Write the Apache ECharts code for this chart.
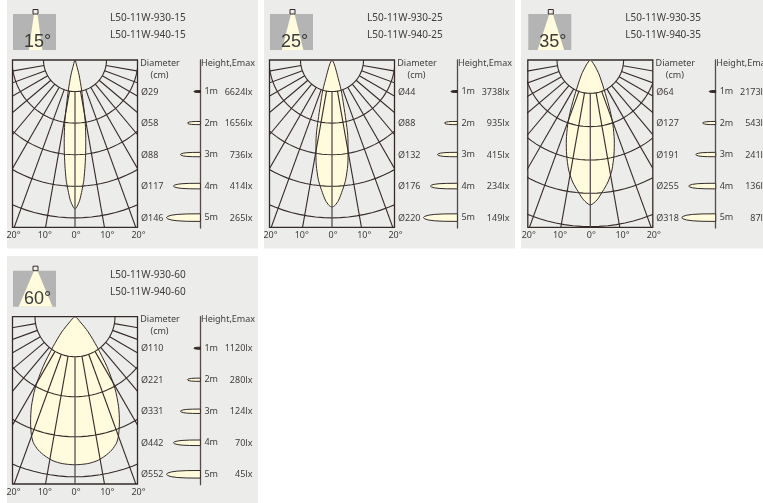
<!DOCTYPE html>
<html>
<head>
<meta charset="utf-8">
<style>html,body{margin:0;padding:0;background:#fff}#c{width:763px;height:503px}</style>
<script src="https://cdn.jsdelivr.net/npm/echarts@6/dist/echarts.min.js"></script>
</head>
<body>
<div id="c"></div>
<script>
// ---- data ----
var beamAngles = [15, 25, 35, 60];
var productCodes = [
  ['L50-11W-930-15', 'L50-11W-940-15'],
  ['L50-11W-930-25', 'L50-11W-940-25'],
  ['L50-11W-930-35', 'L50-11W-940-35'],
  ['L50-11W-930-60', 'L50-11W-940-60']
];
var heights = [1, 2, 3, 4, 5];
var diameters15 = [29, 58, 88, 117, 146];
var diameters25 = [44, 88, 132, 176, 220];
var diameters35 = [64, 127, 191, 255, 318];
var diameters60 = [110, 221, 331, 442, 552];
var emax15 = [6624, 1656, 736, 414, 265];
var emax25 = [3738, 935, 415, 234, 149];
var emax35 = [2173, 543, 241, 136, 87];
var emax60 = [1120, 280, 124, 70, 45];
var radialAngles = [0, 10, 20, 30, 40, 50, 60, 70, 80];
// beam outline: depth below the lamp (m), half width (m)
var beamDepth15 = [0, .16, .48, .95, 1.43, 1.9, 2.38, 2.86, 3.33, 3.81, 4.13, 4.44, 4.63, 4.72];
var beamHalf15  = [0, .05, .13, .21, .27, .32, .34, .34, .32, .28, .22, .15, .07, 0];
var beamDepth25 = [0, .16, .48, .95, 1.43, 1.9, 2.38, 2.86, 3.33, 3.81, 4.13, 4.44, 4.6, 4.66];
var beamHalf25  = [0, .08, .17, .29, .37, .44, .5, .51, .5, .43, .33, .21, .1, 0];
var beamDepth35 = [0, .15, .45, 1, 1.5, 1.95, 2.4, 2.85, 3.3, 3.66, 3.96, 4.2, 4.35];
var beamHalf35  = [0, .12, .27, .45, .59, .68, .72, .71, .65, .53, .36, .2, 0];
var beamDepth60 = [0, .13, .38, .75, 1.25, 1.8, 2.25, 2.63, 2.95, 3.15, 3.33, 3.48, 3.6, 3.67, 3.7];
var beamHalf60  = [0, .13, .33, .55, .8, 1, 1.09, 1.11, 1.09, 1.04, .92, .75, .55, .32, 0];
// little side lobes at each height
var lobeLength = [6.5, 13, 20, 27, 34];
var lobeThickness = [1, 1.6, 2.2, 2.8, 3.8];
var lobeAlong = [0, .04, .14, .32, .6, 1];
var lobeAcross = [0, .32, .62, .84, .97, 1];
// arcs per panel and metres covered by the plot
var arcCounts = [5, 5, 5, 4];
var depthRange = [5.3, 5.3, 5.02, 4.18];
var halfRange = [1.984, 1.984, 1.877, 1.5625];
var iconConeHalf = [6.8, 10.8, 13.3, 17];

var diameters = [diameters15, diameters25, diameters35, diameters60];
var emax = [emax15, emax25, emax35, emax60];
var beamDepths = [beamDepth15, beamDepth25, beamDepth35, beamDepth60];
var beamHalves = [beamHalf15, beamHalf25, beamHalf35, beamHalf60];

// ---- layout and style ----
var offX = [0, 257, 515.3, 0], offY = [0, 0, 0, 256.7];
var panelBg = [[7, 0, 251, 248.5], [264, 0, 251, 248.5], [521, 0, 242, 248.5], [7, 256, 251, 247]];
var INK = '#352a28', TXT = '#403c3c', CREAM = '#fffbdc', FONT = '"Noto Sans", "Open Sans", sans-serif';
var grids = [], xAxes = [], yAxes = [], series = [], graphics = [];

panelBg.forEach(function (r) {
  graphics.push({type: 'rect', silent: true, z: -10, shape: {x: r[0], y: r[1], width: r[2], height: r[3]}, style: {fill: '#ececeb'}});
});

function addPanel(p) {
  var ox = offX[p], oy = offY[p];
  var base = grids.length;
  grids.push({left: 12.5 + ox, top: 60 + oy, width: 125, height: 167.3, show: true, borderColor: INK, borderWidth: 1.3, backgroundColor: 'transparent'});
  grids.push({left: 141 + ox, top: 60 + oy, width: 59.4, height: 168, show: false});
  var axBase = xAxes.length, yBase = yAxes.length;
  xAxes.push({gridIndex: base, type: 'value', min: -20, max: 20, interval: 10, position: 'bottom',
    axisLine: {show: false}, axisTick: {show: false}, splitLine: {show: false},
    axisLabel: {show: true, showMinLabel: true, showMaxLabel: true, margin: 4, padding: [0, 0, 0, 2], fontFamily: FONT, fontSize: 9, color: TXT,
      formatter: function (v) { return Math.abs(v) + '°'; }}});
  xAxes.push({gridIndex: base, type: 'value', show: false, min: -halfRange[p], max: halfRange[p]});
  xAxes.push({gridIndex: base + 1, type: 'value', show: false, min: -59.4, max: 0});
  yAxes.push({gridIndex: base, type: 'value', show: false, inverse: true, min: 0, max: depthRange[p]});
  yAxes.push({gridIndex: base + 1, type: 'value', inverse: true, min: 0, max: 5.33, interval: 1, position: 'right',
    axisLine: {show: true, lineStyle: {color: '#554b49', width: 1.3}}, axisTick: {show: false}, splitLine: {show: false},
    axisLabel: {margin: 4, fontFamily: FONT, fontSize: 9, color: TXT, showMaxLabel: false,
      formatter: function (v) { return v >= 1 && v <= 5 ? v + 'm' : ''; }}});

  series.push({type: 'custom', xAxisIndex: axBase + 1, yAxisIndex: yBase, clip: true, z: 2, silent: true,
    data: beamDepths[p].map(function (d, i) { return [beamHalves[p][i], d]; }),
    renderItem: function (params, api) {
      if (params.dataIndex !== 0) return null;
      var depth = beamDepths[p], half = beamHalves[p], pts = [], i;
      for (i = 0; i < depth.length; i++) pts.push(api.coord([half[i], depth[i]]));
      for (i = depth.length - 2; i > 0; i--) pts.push(api.coord([-half[i], depth[i]]));
      return {type: 'polygon', shape: {points: pts, smooth: 0.25}, style: {fill: CREAM, stroke: INK, lineWidth: 1}};
    }});
  var arcData = [];
  for (var k = 1; k <= arcCounts[p]; k++) arcData.push([0, k]);
  series.push({type: 'custom', xAxisIndex: axBase + 1, yAxisIndex: yBase, clip: true, z: 3, silent: true, data: arcData,
    renderItem: function (params, api) {
      var r = api.value(1), pts = [];
      for (var a = -90; a <= 90; a += 3) {
        var t = a * Math.PI / 180;
        pts.push(api.coord([r * Math.sin(t), r * Math.cos(t)]));
      }
      return {type: 'polyline', shape: {points: pts}, style: {fill: 'none', stroke: INK, lineWidth: 1.1}};
    }});
  var spokes = [];
  radialAngles.forEach(function (a) { spokes.push([a, 1]); if (a) spokes.push([-a, 1]); });
  series.push({type: 'custom', xAxisIndex: axBase + 1, yAxisIndex: yBase, clip: true, z: 3, silent: true, data: spokes,
    renderItem: function (params, api) {
      var t = api.value(0) * Math.PI / 180, r0 = 1, r1 = 8;
      var a = api.coord([r0 * Math.sin(t), r0 * Math.cos(t)]), b = api.coord([r1 * Math.sin(t), r1 * Math.cos(t)]);
      return {type: 'line', shape: {x1: a[0], y1: a[1], x2: b[0], y2: b[1]},
        style: {stroke: api.value(0) === 0 ? '#575050' : INK, lineWidth: api.value(0) === 0 ? 1.3 : 1.1}};
    }});
  series.push({type: 'custom', xAxisIndex: axBase + 2, yAxisIndex: yBase + 1, z: 2, silent: true,
    data: heights.map(function (h, i) { return [-lobeLength[i], h, lobeThickness[i]]; }),
    renderItem: function (params, api) {
      var len = -api.value(0), h = api.value(1), th = api.value(2), pts = [], i;
      var c = api.coord([0, h]);
      for (i = 0; i < lobeAlong.length; i++) pts.push([c[0] - len + len * lobeAlong[i], c[1] - th * lobeAcross[i]]);
      pts.push([c[0], c[1] + th]);
      for (i = lobeAlong.length - 2; i > 0; i--) pts.push([c[0] - len + len * lobeAlong[i], c[1] + th * lobeAcross[i]]);
      return {type: 'polygon', shape: {points: pts}, style: {fill: len < 8 ? INK : CREAM, stroke: INK, lineWidth: 1}};
    }});
  series.push({type: 'custom', xAxisIndex: axBase + 2, yAxisIndex: yBase + 1, z: 4, silent: true,
    data: heights.map(function (h, i) { return [-59.4, h, diameters[p][i], emax[p][i]]; }),
    renderItem: function (params, api) {
      var c = api.coord([0, api.value(1)]);
      return {type: 'group', children: [
        {type: 'text', x: c[0] - 59.4, y: c[1] + 0.5, style: {text: 'Ø' + api.value(2), font: '9px ' + FONT, fill: TXT, textAlign: 'left', textVerticalAlign: 'middle'}},
        {type: 'text', x: c[0] + 52, y: c[1] + 0.5, style: {text: api.value(3) + 'lx', font: '9px ' + FONT, fill: TXT, textAlign: 'right', textVerticalAlign: 'middle'}}
      ]};
    }});

  function txt(s, x, y, size, align) {
    graphics.push({type: 'text', silent: true, z: 5, x: x + ox, y: y + oy,
      style: {text: s, font: size + 'px ' + FONT, fill: TXT, textAlign: align || 'left', textVerticalAlign: 'middle'}});
  }
  txt(productCodes[p][0], 110, 18.5, 10);
  txt(productCodes[p][1], 110, 35, 10);
  txt('Diameter', 160, 63, 9, 'center');
  txt('(cm)', 159.5, 75, 9, 'center');
  txt('Height,Emax', 201, 63, 9);

  graphics.push({type: 'rect', silent: true, z: 1, shape: {x: 13 + ox, y: 14 + oy, width: 43, height: 36}, style: {fill: '#b4b4b4'}});
  graphics.push({type: 'polygon', silent: true, z: 2, shape: {points: [[34 + ox, 14 + oy], [37.5 + ox, 14 + oy], [35.6 + ox + iconConeHalf[p], 50 + oy], [35.6 + ox - iconConeHalf[p], 50 + oy]]}, style: {fill: CREAM}});
  graphics.push({type: 'rect', silent: true, z: 3, shape: {x: 33 + ox, y: 9.5 + oy, width: 5, height: 4.5}, style: {fill: '#ececeb', stroke: INK, lineWidth: 1}});
  graphics.push({type: 'text', silent: true, z: 4, x: 37.5 + ox, y: 42 + oy, style: {text: beamAngles[p] + '°', font: '18px "Liberation Sans", Arial, sans-serif', fill: '#3a3a3a', textAlign: 'center', textVerticalAlign: 'middle'}});
}
for (var pi = 0; pi < beamAngles.length; pi++) addPanel(pi);

var chart = echarts.init(document.getElementById('c'));
chart.setOption({animation: false, grid: grids, xAxis: xAxes, yAxis: yAxes, series: series, graphic: graphics});
</script>
</body>
</html>
